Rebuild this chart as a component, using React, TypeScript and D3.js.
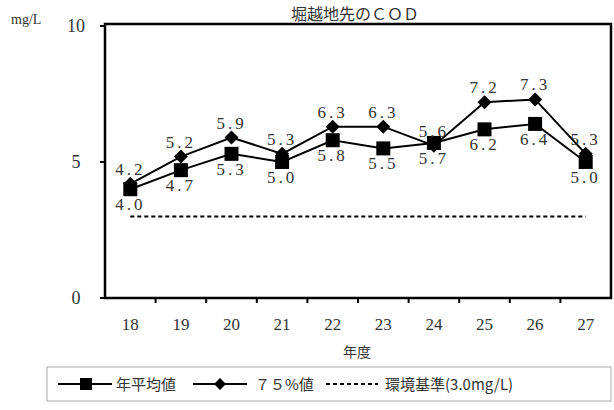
import React from "react";
import * as d3 from "d3";

const years = ["18", "19", "20", "21", "22", "23", "24", "25", "26", "27"];
const annualMean = [4.0, 4.7, 5.3, 5.0, 5.8, 5.5, 5.7, 6.2, 6.4, 5.0];
const pct75 = [4.2, 5.2, 5.9, 5.3, 6.3, 6.3, 5.6, 7.2, 7.3, 5.3];
const standard = 3.0;
const yTicks = [0, 5, 10];

const W = 614;
const H = 410;
const left = 105;
const right = 611;
const top = 26;
const bottom = 298;

const serif = "Liberation Serif, DejaVu Serif, Tinos, serif";
const jp = "Noto Sans CJK JP, sans-serif";

const fmt = (v: number) => v.toFixed(1);

const App: React.FC = () => {
  const x = d3.scaleBand<string>().domain(years).range([left, right]);
  const y = d3.scaleLinear().domain([0, 10]).range([bottom, top]);
  const cx = (d: string) => (x(d) ?? 0) + x.bandwidth() / 2;

  const line = d3
    .line<number>()
    .x((_, i) => cx(years[i]))
    .y((d) => y(d));

  const diamond = (px: number, py: number, r: number) =>
    `M${px},${py - r}L${px + r},${py}L${px},${py + r}L${px - r},${py}Z`;

  const numStyle = { fontFamily: serif };
  const jpStyle = { fontFamily: jp };

  return (
    <svg
      width={W}
      height={H}
      style={{ position: "absolute", left: 0, top: 0, background: "#fff" }}
    >
      {/* title */}
      <text x={355} y={20} textAnchor="middle" style={jpStyle} fontSize={16} fill="#333">
        堀越地先のＣＯＤ
      </text>
      <text x={11} y={24} style={numStyle} fontSize={14} fill="#333">
        mg/L
      </text>

      {/* frame */}
      <rect x={left} y={top - 2} width={right - left} height={bottom - top + 2} fill="none" stroke="#000" strokeWidth={2.5} />

      {/* y ticks */}
      {yTicks.map((t) => (
        <g key={t}>
          <line x1={left - 5} x2={left} y1={y(t)} y2={y(t)} stroke="#000" strokeWidth={2} />
          <text x={76} y={y(t) + 6} textAnchor="middle" style={numStyle} fontSize={18} fill="#333">
            {t}
          </text>
        </g>
      ))}

      {/* x ticks */}
      {years.map((d, i) => (
        <g key={d}>
          {i > 0 && (
            <line x1={x(d)} x2={x(d)} y1={bottom} y2={bottom + 5} stroke="#000" strokeWidth={2} />
          )}
          <text x={cx(d)} y={bottom + 32} textAnchor="middle" style={numStyle} fontSize={17} fill="#333">
            {d}
          </text>
        </g>
      ))}
      <text x={357} y={357} textAnchor="middle" style={jpStyle} fontSize={14} fill="#333">
        年度
      </text>

      {/* environmental standard */}
      <line
        x1={cx(years[0])}
        x2={cx(years[years.length - 1])}
        y1={y(standard)}
        y2={y(standard)}
        stroke="#000"
        strokeWidth={2}
        strokeDasharray="4,3"
      />

      {/* series lines */}
      <path d={line(annualMean) ?? ""} fill="none" stroke="#000" strokeWidth={2} />
      <path d={line(pct75) ?? ""} fill="none" stroke="#000" strokeWidth={2} />

      {/* markers */}
      {annualMean.map((v, i) => (
        <rect key={"m" + i} x={cx(years[i]) - 7} y={y(v) - 7} width={14} height={14} fill="#000" />
      ))}
      {pct75.map((v, i) => (
        <path key={"p" + i} d={diamond(cx(years[i]), y(v), 7)} fill="#000" />
      ))}

      {/* labels */}
      {annualMean.map((v, i) => (
        <text
          key={"ml" + i}
          x={cx(years[i])}
          y={y(v) + 21}
          textAnchor="middle"
          style={numStyle}
          fontSize={17}
          letterSpacing={3}
          fill="#333"
        >
          {fmt(v)}
        </text>
      ))}
      {pct75.map((v, i) => (
        <text
          key={"pl" + i}
          x={cx(years[i])}
          y={y(v) - 9}
          textAnchor="middle"
          style={numStyle}
          fontSize={17}
          letterSpacing={3}
          fill="#333"
        >
          {fmt(v)}
        </text>
      ))}

      {/* legend */}
      <rect x={47} y={367} width={564} height={34} fill="#fff" stroke="#aaa" strokeWidth={1} />
      <line x1={58} x2={112} y1={384} y2={384} stroke="#000" strokeWidth={2} />
      <rect x={80} y={378} width={12} height={12} fill="#000" />
      <text x={116} y={390} style={jpStyle} fontSize={15} fill="#333">
        年平均値
      </text>
      <line x1={193} x2={247} y1={384} y2={384} stroke="#000" strokeWidth={2} />
      <path d={diamond(220, 384, 6)} fill="#000" />
      <text x={255} y={390} style={jpStyle} fontSize={15} fill="#333">
        ７５%値
      </text>
      <line x1={326} x2={378} y1={384} y2={384} stroke="#000" strokeWidth={2} strokeDasharray="4,3" />
      <text x={385} y={390} style={jpStyle} fontSize={15} fill="#333">
        環境基準(3.0mg/L)
      </text>
    </svg>
  );
};

export default App;
